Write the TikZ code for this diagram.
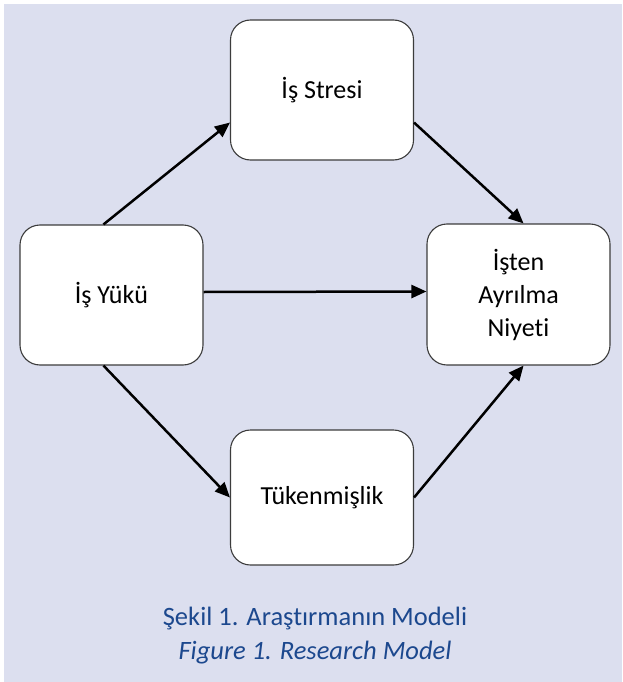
\documentclass[tikz,border=0pt]{standalone}
\usepackage{fontspec}
\setmainfont[RawFeature={-liga;-clig;-dlig}]{Carlito}
\usetikzlibrary{arrows.meta}
\definecolor{bgc}{RGB}{220,223,239}
\definecolor{capc}{RGB}{28,72,142}
\definecolor{bordc}{RGB}{60,60,60}
\begin{document}
\begin{tikzpicture}[x=1pt,y=-1pt,
  box/.style={draw=bordc,line width=1.1pt,fill=white,rounded corners=20pt,
    minimum width=183pt,minimum height=140pt,align=center,inner sep=0pt,
    font=\fontsize{26}{33}\selectfont},
  conn/.style={line width=2.5pt,-{Triangle[length=15pt,width=13pt]}},
  captxt/.style={text=capc,font=\fontsize{26.5}{35}\selectfont,inner sep=0pt}]
\useasboundingbox (0,0) rectangle (622,682);
\fill[bgc] (4,4) rectangle (622,682);
\node[box] (stres) at (322,90) {İş Stresi};
\node[box] (yuku) at (111.5,295) {İş Yükü};
\node[box,minimum height=141pt] (niyet) at (518.5,294.5) {İşten\\Ayrılma\\Niyeti};
\node[box,minimum height=135pt] (tuk) at (322,497.5) {Tükenmişlik};
\draw[conn] ([xshift=84pt]yuku.north west) -- ([yshift=38pt]stres.south west);
\draw[conn] ([yshift=38pt]stres.south east) -- ([xshift=-87pt]niyet.north east);
\draw[conn] ([yshift=3pt]yuku.east) -- ([yshift=3pt]niyet.west);
\draw[conn] ([xshift=84pt]yuku.south west) -- (tuk.west);
\draw[conn] (tuk.east) -- ([xshift=-87pt]niyet.south east);
\node[captxt] (c1) at (315,619) {Şekil 1. Araştırmanın Modeli};
\node[captxt,font=\fontsize{26.5}{35}\selectfont\itshape] (c2) at (315,653) {Figure 1. Research Model};
\end{tikzpicture}
\end{document}
